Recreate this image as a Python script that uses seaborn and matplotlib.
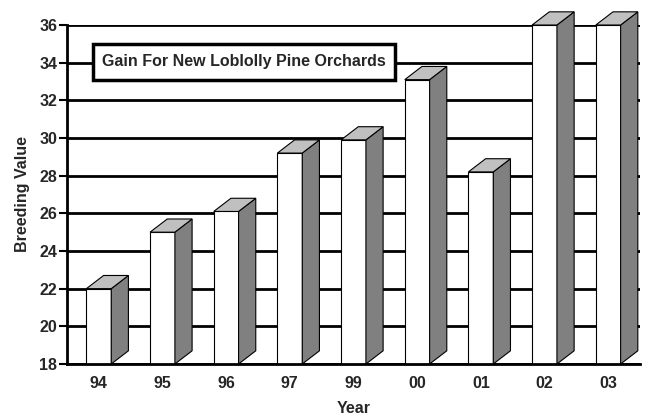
import numpy as np
import pandas as pd
import matplotlib
matplotlib.use("Agg")
import matplotlib.pyplot as plt
from matplotlib.patches import Polygon, Rectangle
import seaborn as sns

years = ["94", "95", "96", "97", "99", "00", "01", "02", "03"]
breeding_value = [22.0, 25.0, 26.1, 29.2, 29.9, 33.1, 28.2, 36.0, 36.0]
y_ticks = [18, 20, 22, 24, 26, 28, 30, 32, 34, 36]

sns.set_theme(style="white")
plt.rcParams["font.family"] = ["Liberation Sans", "DejaVu Sans"]
plt.rcParams["font.weight"] = "bold"

FS = 11.5

df = pd.DataFrame({"Year": years, "Breeding Value": breeding_value})

fig = plt.figure(figsize=(6.49, 4.19), dpi=100)
ax = fig.add_axes([0.1032, 0.1313, 0.8830, 0.8090])

sns.barplot(data=df, x="Year", y="Breeding Value", order=years, color="white",
            edgecolor="black", linewidth=0.8, width=0.39, saturation=1, ax=ax,
            zorder=3)

base = y_ticks[0]
dx, dy = 0.27, 0.7
for patch in ax.patches:
    x0 = patch.get_x()
    x1 = x0 + patch.get_width()
    v = patch.get_height()
    side = Polygon([(x1, base), (x1 + dx, base + dy), (x1 + dx, v + dy), (x1, v)],
                   closed=True, facecolor="#808080", edgecolor="black",
                   linewidth=0.8, zorder=3, clip_on=False)
    top = Polygon([(x0, v), (x0 + dx, v + dy), (x1 + dx, v + dy), (x1, v)],
                  closed=True, facecolor="#c0c0c0", edgecolor="black",
                  linewidth=0.8, zorder=3, clip_on=False)
    ax.add_patch(side)
    ax.add_patch(top)

ax.set_ylim(18, 36)
ax.set_xlim(-0.5, len(years) - 0.5)
ax.set_yticks(y_ticks)
ax.set_yticklabels([str(t) for t in y_ticks], fontsize=FS, fontweight="bold")
ax.set_xticks(range(len(years)))
ax.set_xticklabels(years, fontsize=FS, fontweight="bold")
ax.set_xticks(np.arange(-0.5, len(years)), minor=True)

ax.yaxis.grid(True, color="black", linewidth=2)
ax.set_axisbelow(True)
for gl in ax.get_ygridlines():
    gl.set_zorder(1)

ax.tick_params(axis="x", which="major", length=0, pad=9)
ax.tick_params(axis="x", which="minor", length=5, width=1, color="black", direction="out")
ax.tick_params(axis="y", length=6, width=1.5, color="black", direction="out", pad=1, left=True)

for side_name in ["top", "right"]:
    ax.spines[side_name].set_visible(False)
for side_name in ["left", "bottom"]:
    ax.spines[side_name].set_color("black")
    ax.spines[side_name].set_linewidth(2)
    ax.spines[side_name].set_zorder(4)

ax.set_xlabel("Year", fontsize=FS, fontweight="bold", labelpad=7)
ax.set_ylabel("Breeding Value", fontsize=FS, fontweight="bold", labelpad=7)

# Title panel inside the plotting area
ax.add_patch(Rectangle((0.0454, 0.838), 0.527, 0.106, transform=ax.transAxes,
                       facecolor="white", edgecolor="black", linewidth=2.5,
                       zorder=5))
ax.text(0.309, 0.891, "Gain For New Loblolly Pine Orchards", transform=ax.transAxes,
        ha="center", va="center", fontsize=FS, fontweight="bold", zorder=6)

fig.savefig("out.png", dpi=100)
